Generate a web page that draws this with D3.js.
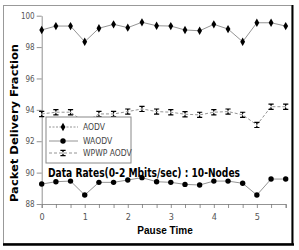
<!DOCTYPE html>
<html>
<head>
<meta charset="utf-8">
<script src="https://cdn.jsdelivr.net/npm/d3@7"></script>
<style>
  body { margin: 0; background: #fff; }
  svg { display: block; }
  .tick text { font-family: "Liberation Sans Narrow", "DejaVu Sans Condensed", sans-serif; font-size: 9px; fill: #555; }
  .axis path, .axis line { stroke: #777; stroke-width: 0.8; }
</style>
</head>
<body>
<script>
  'use strict';

  // Pause times (x) and the three series.
  var pauseTime = [ 0, 0.33, 0.67, 1, 1.33, 1.67, 2, 2.33, 2.67,
                    3, 3.33, 3.67, 4, 4.33, 4.67, 5, 5.33, 5.67 ];
  var aodv  = [ 99.09, 99.34, 99.34, 98.34, 99.20, 99.45, 99.24, 99.58, 99.36,
                99.34, 99.09, 99.04, 99.45, 99.15, 98.34, 99.55, 99.55, 99.34 ];
  var waodv = [ 89.27, 89.42, 89.46, 88.57, 89.38, 89.38, 89.53, 89.68, 89.42,
                89.38, 89.25, 89.21, 89.46, 89.46, 89.32, 88.57, 89.59, 89.59 ];
  var wpwp  = [ 93.74, 93.85, 93.85, 93.20, 93.74, 93.74, 93.89, 94.06, 93.89,
                93.85, 93.72, 93.68, 93.85, 93.89, 93.68, 93.04, 94.20, 94.20 ];
  var yTicks = [ 88, 90, 92, 94, 96, 98, 100 ];
  var seriesNames = [ 'AODV', 'WAODV', 'WPWP AODV' ];

  var width = 299, height = 250;

  var svg = d3.select( 'body' ).append( 'svg' )
    .attr( 'width', width )
    .attr( 'height', height );

  svg.append( 'rect' )
    .attr( 'width', width ).attr( 'height', height )
    .attr( 'fill', '#fff' );

  // Outer frame, with the heavy bottom/right edge.
  svg.append( 'rect' )
    .attr( 'x', 3.5 ).attr( 'y', 5.5 )
    .attr( 'width', 288.5 ).attr( 'height', 238 )
    .attr( 'fill', 'none' )
    .attr( 'stroke', '#999' );
  svg.append( 'line' )
    .attr( 'x1', 3 ).attr( 'x2', 294 ).attr( 'y1', 244.5 ).attr( 'y2', 244.5 )
    .attr( 'stroke', '#000' ).attr( 'stroke-width', 2.5 );
  svg.append( 'line' )
    .attr( 'x1', 292.5 ).attr( 'x2', 292.5 ).attr( 'y1', 5 ).attr( 'y2', 245 )
    .attr( 'stroke', '#000' ).attr( 'stroke-width', 2 );

  var x = d3.scaleLinear().domain( [ 0, 5.67 ] ).range( [ 41.7, 285.7 ] ),
      y = d3.scaleLinear().domain( [ 88, 100 ] ).range( [ 204, 15.7 ] );

  svg.append( 'g' )
    .attr( 'class', 'axis' )
    .attr( 'transform', 'translate(0,' + y( 88 ) + ')' )
    .call( d3.axisBottom( x )
      .tickValues( pauseTime )
      .tickSizeOuter( 0 )
      .tickSize( 4 )
      .tickFormat( function( d ) { return Number.isInteger( d ) ? d : ''; } ) )
    .selectAll( 'text' ).attr( 'dy', '1.05em' );

  svg.append( 'g' )
    .attr( 'class', 'axis' )
    .attr( 'transform', 'translate(' + x( 0 ) + ',0)' )
    .call( d3.axisLeft( y ).tickValues( yTicks ).tickSize( 5 ).tickSizeOuter( 0 ) )
    .selectAll( 'text' ).attr( 'x', -7 ).style( 'font-size', '8px' );

  // Marker shapes.
  var diamond = d3.symbol( d3.symbolDiamond, 20 )();
  var ibeam = 'M-2.6,-3.2H2.6V-2H0.9L0,0L0.9,2H2.6V3.2H-2.6V2H-0.9L0,0L-0.9,-2H-2.6Z';

  var series = [
    { name: seriesNames[ 0 ], values: aodv,  dash: null,  marker: 'diamond' },
    { name: seriesNames[ 1 ], values: waodv, dash: null,  marker: 'circle' },
    { name: seriesNames[ 2 ], values: wpwp,  dash: '3,2', marker: 'ibeam' }
  ];

  function drawMarker( sel, marker ) {
    if ( marker === 'circle' ) {
      sel.append( 'circle' ).attr( 'r', 2.7 ).attr( 'fill', '#000' );
    } else {
      sel.append( 'path' )
        .attr( 'd', marker === 'diamond' ? diamond : ibeam )
        .attr( 'fill', '#000' );
    }
  }

  var line = d3.line()
    .x( function( d, i ) { return x( pauseTime[ i ] ); } )
    .y( function( d ) { return y( d ); } );

  series.forEach( function( s ) {
    svg.append( 'path' )
      .datum( s.values )
      .attr( 'd', line )
      .attr( 'fill', 'none' )
      .attr( 'stroke', '#888' )
      .attr( 'stroke-width', 0.9 )
      .attr( 'stroke-dasharray', s.dash );

    svg.selectAll( null )
      .data( s.values )
      .enter()
      .append( 'g' )
        .attr( 'transform', function( d, i ) {
          return 'translate(' + x( pauseTime[ i ] ) + ',' + y( d ) + ')';
        })
        .each( function() { drawMarker( d3.select( this ), s.marker ); } );
  });

  // Legend box.
  var legend = svg.append( 'g' ).attr( 'transform', 'translate(46,117)' );
  legend.append( 'rect' )
    .attr( 'width', 85 ).attr( 'height', 46 )
    .attr( 'fill', '#fff' )
    .attr( 'stroke', '#888' );

  var rowY = [ 10, 24, 36 ];
  series.forEach( function( s, i ) {
    var row = legend.append( 'g' ).attr( 'transform', 'translate(0,' + rowY[ i ] + ')' );
    row.append( 'line' )
      .attr( 'x1', 3 ).attr( 'x2', 32 )
      .attr( 'stroke', '#888' ).attr( 'stroke-width', 0.9 )
      .attr( 'stroke-dasharray', i === 0 ? '2,1.5' : s.dash );
    drawMarker( row.append( 'g' ).attr( 'transform', 'translate(17,0)' ), s.marker );
    row.append( 'text' )
      .attr( 'x', 37 ).attr( 'dy', '0.35em' )
      .style( 'font-family', '"Liberation Sans Narrow", "DejaVu Sans Condensed", sans-serif' )
      .style( 'font-size', '8.5px' )
      .style( 'fill', '#444' )
      .text( s.name );
  });

  // Titles.
  svg.append( 'text' )
    .attr( 'x', 48 ).attr( 'y', 177 )
    .style( 'font-family', '"Liberation Sans Narrow", "DejaVu Sans Condensed", sans-serif' )
    .style( 'font-weight', 'bold' )
    .style( 'font-size', '12px' )
    .attr( 'textLength', 192 )
    .attr( 'lengthAdjust', 'spacingAndGlyphs' )
    .text( 'Data Rates(0-2 Mbits/sec) : 10-Nodes' );

  svg.append( 'text' )
    .attr( 'x', 165 ).attr( 'y', 234 )
    .attr( 'text-anchor', 'middle' )
    .style( 'font-family', '"Liberation Sans", Arial, sans-serif' )
    .style( 'font-weight', 'bold' )
    .style( 'font-size', '10px' )
    .text( 'Pause Time' );

  svg.append( 'text' )
    .attr( 'transform', 'translate(18,123) rotate(-90)' )
    .attr( 'text-anchor', 'middle' )
    .style( 'font-family', '"DejaVu Sans", sans-serif' )
    .style( 'font-weight', 'bold' )
    .style( 'font-size', '10px' )
    .attr( 'textLength', 158 )
    .attr( 'lengthAdjust', 'spacingAndGlyphs' )
    .text( 'Packet Delivery Fraction' );
</script>
</body>
</html>
